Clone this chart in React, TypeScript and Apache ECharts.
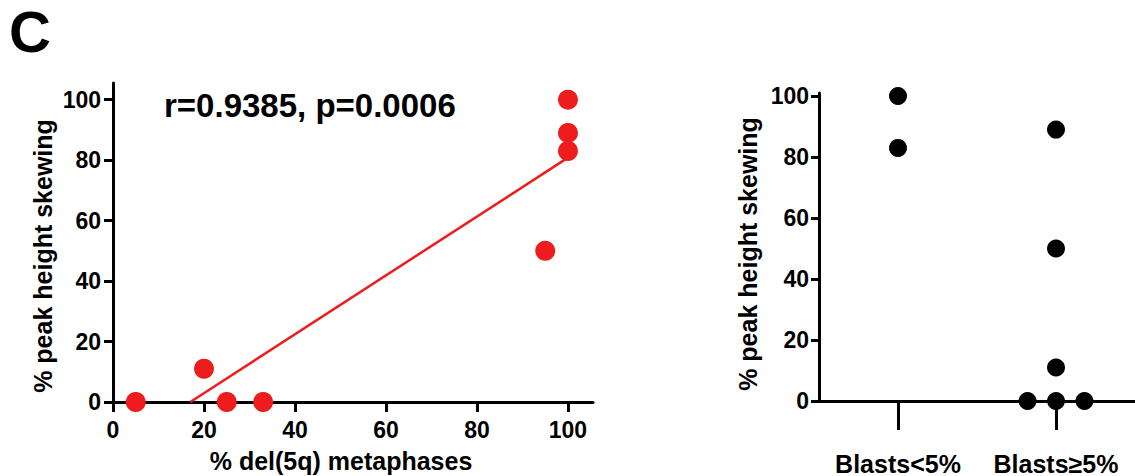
import React, { useEffect, useRef } from "react";
import * as echarts from "echarts";

// ---- Data ----
const delMetaphases = [5, 20, 25, 33, 95, 100, 100, 100];
const peakSkewing = [0, 11, 0, 0, 50, 100, 89, 83];

const blastCategories = ["Blasts<5%", "Blasts≥5%"];
const blastsLowValues = [100, 83];
const blastsHighValues = [89, 50, 11, 0, 0, 0];
const blastsHighJitter = [0, 0, 0, -0.18, 0, 0.18];

const leftXTicks = [0, 20, 40, 60, 80, 100];
const yTicks = [0, 20, 40, 60, 80, 100];

const annotationText = "r=0.9385, p=0.0006";
const panelLetter = "C";
const xTitle = "% del(5q) metaphases";
const yTitle = "% peak height skewing";

const FONT = "'Liberation Sans', Arial, Helvetica, sans-serif";
const RED = "#ee1c1c";

function linearFit(xs: number[], ys: number[]) {
  const n = xs.length;
  const mx = xs.reduce((a, b) => a + b, 0) / n;
  const my = ys.reduce((a, b) => a + b, 0) / n;
  let sxy = 0;
  let sxx = 0;
  for (let i = 0; i < n; i++) {
    sxy += (xs[i] - mx) * (ys[i] - my);
    sxx += (xs[i] - mx) * (xs[i] - mx);
  }
  const slope = sxy / sxx;
  const intercept = my - slope * mx;
  return { slope, intercept };
}

export default function App() {
  const ref = useRef<HTMLDivElement>(null);

  useEffect(() => {
    if (!ref.current) return;
    const chart = echarts.init(ref.current, undefined, { renderer: "svg" });

    const { slope, intercept } = linearFit(delMetaphases, peakSkewing);
    const xMaxData = Math.max(...delMetaphases);
    const fitLine = [
      [-intercept / slope, 0],
      [xMaxData, slope * xMaxData + intercept],
    ];

    const axisLineStyle = { color: "#000", width: 3 };
    const tickLabel = {
      color: "#000",
      fontFamily: FONT,
      fontWeight: "bold" as const,
      fontSize: 23,
    };

    const option: any = {
      animation: false,
      backgroundColor: "#fff",
      grid: [
        { left: 113, top: 83, width: 480, height: 319 },
        { left: 819, top: 93, width: 318, height: 308.7 },
      ],
      xAxis: [
        {
          type: "value",
          gridIndex: 0,
          min: 0,
          max: 105.5,
          axisLine: { show: true, onZero: false, lineStyle: axisLineStyle },
          axisTick: {
            show: true,
            length: 10,
            lineStyle: axisLineStyle,
            customValues: leftXTicks,
          },
          axisLabel: { ...tickLabel, margin: 16, customValues: leftXTicks },
          splitLine: { show: false },
        },
        {
          type: "category",
          gridIndex: 1,
          position: "bottom",
          data: blastCategories,
          boundaryGap: true,
          axisLine: { show: true, onZero: false, lineStyle: axisLineStyle },
          axisTick: {
            show: true,
            alignWithLabel: true,
            interval: 0,
            length: 29,
            lineStyle: axisLineStyle,
          },
          axisLabel: {
            ...tickLabel,
            fontSize: 25,
            margin: 50,
            interval: 0,
            hideOverlap: false,
          },
          splitLine: { show: false },
        },
        {
          type: "value",
          gridIndex: 1,
          position: "top",
          min: -0.5,
          max: 1.5,
          show: false,
          axisLine: { onZero: false },
        },
      ],
      yAxis: [
        {
          type: "value",
          gridIndex: 0,
          position: "left",
          min: 0,
          max: 105.5,
          axisLine: { show: true, onZero: false, lineStyle: axisLineStyle },
          axisTick: {
            show: true,
            length: 9,
            lineStyle: axisLineStyle,
            customValues: yTicks,
          },
          axisLabel: { ...tickLabel, margin: 12, customValues: yTicks },
          splitLine: { show: false },
        },
        {
          type: "value",
          gridIndex: 1,
          position: "left",
          min: 0,
          max: 101,
          axisLine: { show: true, onZero: false, lineStyle: axisLineStyle },
          axisTick: {
            show: true,
            length: 8,
            lineStyle: axisLineStyle,
            customValues: yTicks,
          },
          axisLabel: { ...tickLabel, margin: 10, customValues: yTicks },
          splitLine: { show: false },
        },
      ],
      series: [
        {
          type: "line",
          xAxisIndex: 0,
          yAxisIndex: 0,
          data: fitLine,
          showSymbol: false,
          symbol: "none",
          lineStyle: { color: RED, width: 2.5 },
          z: 2,
        },
        {
          type: "scatter",
          xAxisIndex: 0,
          yAxisIndex: 0,
          data: delMetaphases.map((x, i) => [x, peakSkewing[i]]),
          symbolSize: 20,
          itemStyle: { color: RED, opacity: 1 },
          z: 3,
        },
        {
          type: "scatter",
          xAxisIndex: 2,
          yAxisIndex: 1,
          data: [
            ...blastsLowValues.map((v) => [0, v]),
            ...blastsHighValues.map((v, i) => [1 + blastsHighJitter[i], v]),
          ],
          symbolSize: 18,
          itemStyle: { color: "#000", opacity: 1 },
          z: 3,
        },
      ],
      graphic: [
        {
          type: "text",
          x: 30,
          y: 31.5,
          style: {
            text: panelLetter,
            fontSize: 58,
            fontWeight: "bold",
            fontFamily: FONT,
            fill: "#000",
            align: "center",
            verticalAlign: "middle",
          },
        },
        {
          type: "text",
          x: 164,
          y: 105,
          style: {
            text: annotationText,
            fontSize: 33,
            fontWeight: "bold",
            fontFamily: FONT,
            fill: "#000",
            align: "left",
            verticalAlign: "middle",
          },
        },
        {
          type: "text",
          x: 341,
          y: 461,
          style: {
            text: xTitle,
            fontSize: 25,
            fontWeight: "bold",
            fontFamily: FONT,
            fill: "#000",
            align: "center",
            verticalAlign: "middle",
          },
        },
        {
          type: "text",
          x: 43,
          y: 256,
          rotation: Math.PI / 2,
          style: {
            text: yTitle,
            fontSize: 25,
            fontWeight: "bold",
            fontFamily: FONT,
            fill: "#000",
            align: "center",
            verticalAlign: "middle",
          },
        },
        {
          type: "text",
          x: 748,
          y: 254,
          rotation: Math.PI / 2,
          style: {
            text: yTitle,
            fontSize: 25,
            fontWeight: "bold",
            fontFamily: FONT,
            fill: "#000",
            align: "center",
            verticalAlign: "middle",
          },
        },
      ],
    };

    chart.setOption(option);
    return () => chart.dispose();
  }, []);

  return (
    <div
      ref={ref}
      style={{
        position: "fixed",
        left: 0,
        top: 0,
        width: 1135,
        height: 476,
        background: "#fff",
      }}
    />
  );
}
